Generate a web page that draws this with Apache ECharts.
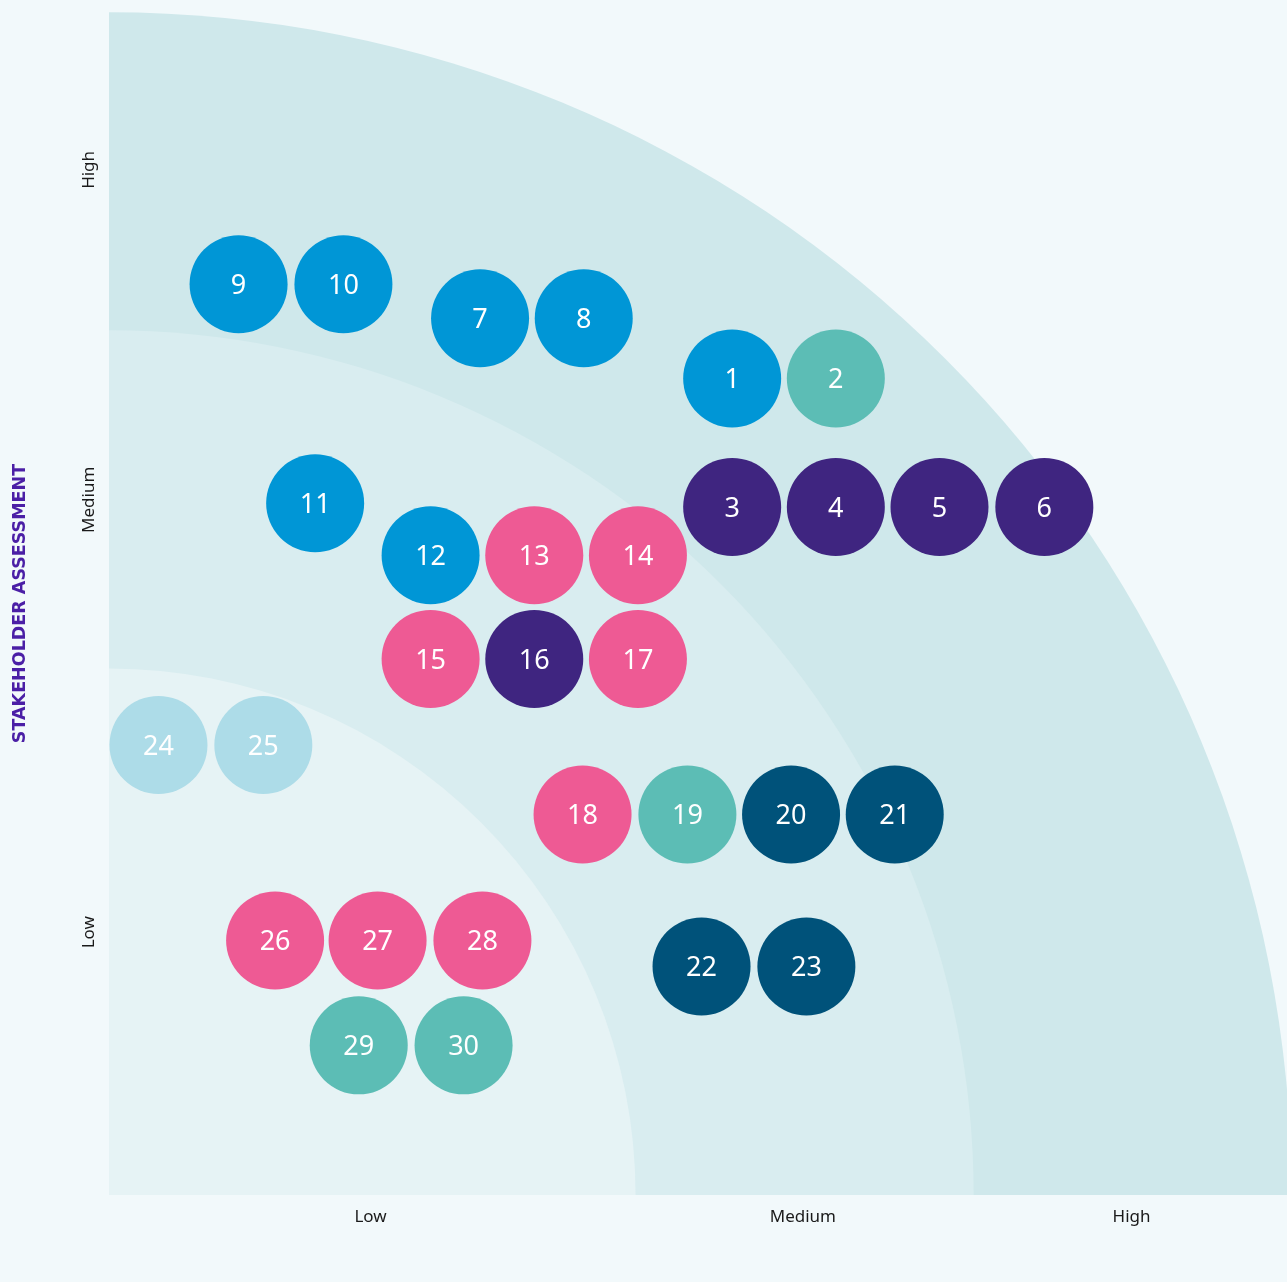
<!DOCTYPE html>
<html>
<head>
<meta charset="utf-8">
<script src="https://cdn.jsdelivr.net/npm/echarts@6/dist/echarts.min.js"></script>
<style>
html,body{margin:0;padding:0;background:#f2f9fb;}
#chart{width:1287px;height:1282px;}
</style>
</head>
<body>
<div id="chart"></div>
<script>
// ---- data ----
const ids    = [1,2,3,4,5,6,7,8,9,10,11,12,13,14,15,16,17,18,19,20,21,22,23,24,25,26,27,28,29,30];
const xVals  = [5.29,6.17,5.29,6.17,7.05,7.94,3.15,4.03,1.10,1.99,1.75,2.73,3.61,4.49,2.73,3.61,4.49,4.02,4.91,5.79,6.67,5.03,5.92,0.42,1.31,1.41,2.28,3.17,2.12,3.01];
const yVals  = [6.93,6.93,5.84,5.84,5.84,5.84,7.44,7.44,7.73,7.73,5.87,5.43,5.43,5.43,4.55,4.55,4.55,3.23,3.23,3.23,3.23,1.94,1.94,3.82,3.82,2.16,2.16,2.16,1.27,1.27];
const groups = ['blue','teal','purple','purple','purple','purple','blue','blue','blue','blue','blue','blue','pink','pink','pink','purple','pink','pink','teal','navy','navy','navy','navy','light','light','pink','pink','pink','teal','teal'];
const bandRadii = [10.04, 7.34, 4.47];   // outer, middle, inner
const xTickValues = [2.22, 5.89, 8.68];
const xTickLabels = ['Low','Medium','High'];
const yTickValues = [2.23, 5.90, 8.70];
const yTickLabels = ['Low','Medium','High'];
const yAxisTitle = 'STAKEHOLDER ASSESSMENT';

// ---- styles ----
const groupColors = {blue:'#0096d6', teal:'#5cbdb5', purple:'#3f2580', pink:'#ee5a94', navy:'#00527a', light:'#addce8'};
const bandColors = ['#cfe8eb','#d9edf0','#e6f3f5'];

const chart = echarts.init(document.getElementById('chart'), null, {renderer:'canvas'});

const bubbleData = ids.map((id,i)=>({
  value:[xVals[i], yVals[i], id],
  itemStyle:{color:groupColors[groups[i]], opacity:1}
}));

chart.setOption({
  backgroundColor:'#f2f9fb',
  animation:false,
  grid:{left:109, right:0, top:12, bottom:87, containLabel:false},
  xAxis:{
    type:'value', min:0, max:10,
    axisLine:{show:false}, axisTick:{show:false}, splitLine:{show:false},
    axisLabel:{
      customValues:xTickValues,
      formatter:(v)=>{const k=xTickValues.indexOf(v);return k>=0?xTickLabels[k]:'';},
      color:'#1a1a1a', fontSize:17, fontFamily:'"Noto Sans", sans-serif', margin:14
    }
  },
  yAxis:{
    type:'value', min:0, max:10.04,
    axisLine:{show:false}, axisTick:{show:false}, splitLine:{show:false},
    name:yAxisTitle, nameLocation:'middle', nameGap:80, nameRotate:90,
    nameTextStyle:{color:'#4b1fa6', fontWeight:'bold', fontSize:17.5, fontFamily:'"DejaVu Sans", sans-serif'},
    axisLabel:{
      customValues:yTickValues,
      formatter:(v)=>{const k=yTickValues.indexOf(v);return k>=0?yTickLabels[k]:'';},
      rotate:90, color:'#1a1a1a', fontSize:17, fontFamily:'"Noto Sans", sans-serif', margin:11
    }
  },
  series:[
    {
      type:'custom',
      silent:true,
      clip:true,
      z:1,
      data:bandRadii.map((r,i)=>[r,i]),
      renderItem:(params, api)=>{
        const c = api.coord([0,0]);
        const r = api.size([api.value(0),0])[0];
        return {
          type:'sector',
          shape:{cx:c[0], cy:c[1], r0:0, r:r, startAngle:-Math.PI/2, endAngle:0, clockwise:true},
          style:{fill:bandColors[api.value(1)]}
        };
      }
    },
    {
      type:'scatter',
      z:5,
      symbol:'circle',
      symbolSize:98,
      data:bubbleData,
      itemStyle:{opacity:1},
      emphasis:{disabled:true},
      label:{
        show:true, position:'inside', offset:[0,2],
        formatter:(p)=>String(p.value[2]),
        color:'#ffffff', fontSize:27, fontFamily:'"Noto Sans", sans-serif'
      }
    }
  ]
});
</script>
</body>
</html>
